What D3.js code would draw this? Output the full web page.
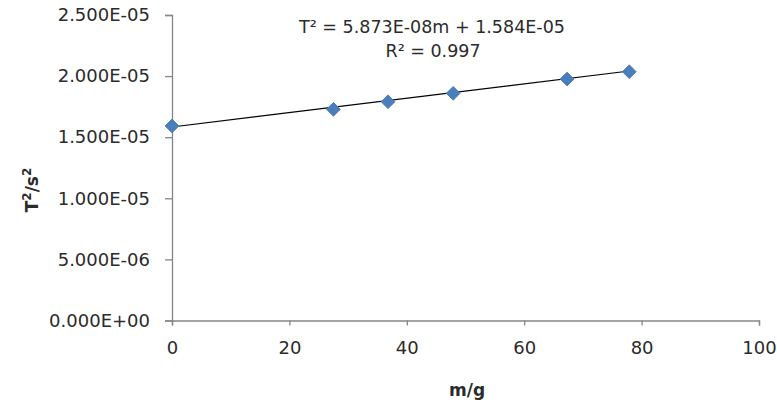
<!DOCTYPE html>
<html>
<head>
<meta charset="utf-8">
<script src="https://cdn.jsdelivr.net/npm/d3@7"></script>
<style>
  body { margin: 0; background: #fff; }
  svg { display: block; font-family: "DejaVu Sans", sans-serif; }
</style>
</head>
<body>
<svg id="chart" width="777" height="406"></svg>
<script>
// Measured points: mass (g) and period squared (s^2)
const mass = [0, 27.5, 36.8, 47.9, 67.3, 77.9];
const periodSq = [1.592e-5, 1.728e-5, 1.790e-5, 1.859e-5, 1.976e-5, 2.036e-5];

// Trendline as printed on the chart
const slope = 5.873e-8;
const intercept = 1.584e-5;
const rSquared = 0.997;

const xTicks = [0, 20, 40, 60, 80, 100];
const yTicks = [0, 5e-6, 1e-5, 1.5e-5, 2e-5, 2.5e-5];

const width = 777, height = 406;
const margin = { top: 15, right: 18, bottom: 85.5, left: 172 };

const svg = d3.select("#chart");

const x = d3.scaleLinear().domain([0, 100]).range([margin.left, width - margin.right]);
const y = d3.scaleLinear().domain([0, 2.5e-5]).range([height - margin.bottom, margin.top]);

// Excel-style scientific format, e.g. 2.500E-05
function sci(v) {
  const [m, e] = v.toExponential(3).split("e");
  const n = +e;
  return m + "E" + (n < 0 ? "-" : "+") + String(Math.abs(n)).padStart(2, "0");
}

const axisColor = "#868686";
const textColor = "#2b2b2b";

// y axis
const yAxis = svg.append("g")
  .attr("transform", `translate(${margin.left},0)`)
  .call(d3.axisLeft(y).tickValues(yTicks).tickFormat(sci).tickSize(7).tickPadding(15));

// x axis
const xAxis = svg.append("g")
  .attr("transform", `translate(0,${height - margin.bottom})`)
  .call(d3.axisBottom(x).tickValues(xTicks).tickFormat(d3.format("d")).tickSize(5).tickPadding(16));

for (const g of [yAxis, xAxis]) {
  g.select(".domain").attr("stroke", axisColor).attr("stroke-width", 1.3);
  g.selectAll(".tick line").attr("stroke", axisColor).attr("stroke-width", 1.3);
  g.selectAll(".tick text")
    .attr("fill", textColor)
    .style("font-size", "18px")
    .style("font-family", "DejaVu Sans, sans-serif");
}

// trendline over the data range
const fitLine = d3.line()
  .x((d) => x(d))
  .y((d) => y(intercept + slope * d));

svg.append("path")
  .datum(d3.extent(mass))
  .attr("d", fitLine)
  .attr("fill", "none")
  .attr("stroke", "#000")
  .attr("stroke-width", 1.1);

// diamond markers
const diamond = d3.symbol().type(d3.symbolDiamond2).size(120);
svg.append("g")
  .selectAll("path")
  .data(mass.map((m, i) => ({ m, t: periodSq[i] })))
  .join("path")
  .attr("d", diamond)
  .attr("transform", (d) => `translate(${x(d.m)},${y(d.t)})`)
  .attr("fill", "#4A7EBB")
  .attr("stroke", "#4A7EBB")
  .attr("stroke-width", 1);

// equation labels
svg.append("text")
  .attr("x", 432)
  .attr("y", 33)
  .attr("text-anchor", "middle")
  .attr("fill", textColor)
  .style("font-size", "17.5px")
  .text(`T² = ${sci(slope)}m + ${sci(intercept)}`);

svg.append("text")
  .attr("x", 433)
  .attr("y", 57)
  .attr("text-anchor", "middle")
  .attr("fill", textColor)
  .style("font-size", "17.5px")
  .text(`R² = ${rSquared}`);

// axis titles
svg.append("text")
  .attr("x", 467)
  .attr("y", 396)
  .attr("text-anchor", "middle")
  .attr("fill", textColor)
  .style("font-size", "17px")
  .style("font-weight", "bold")
  .text("m/g");

svg.append("text")
  .attr("transform", "translate(38,190) rotate(-90)")
  .attr("text-anchor", "middle")
  .attr("fill", textColor)
  .style("font-size", "17px")
  .style("font-weight", "bold")
  .html('T<tspan dy="-7" font-size="12">2</tspan><tspan dy="7">/s</tspan><tspan dy="-7" font-size="12">2</tspan>');
</script>
</body>
</html>
